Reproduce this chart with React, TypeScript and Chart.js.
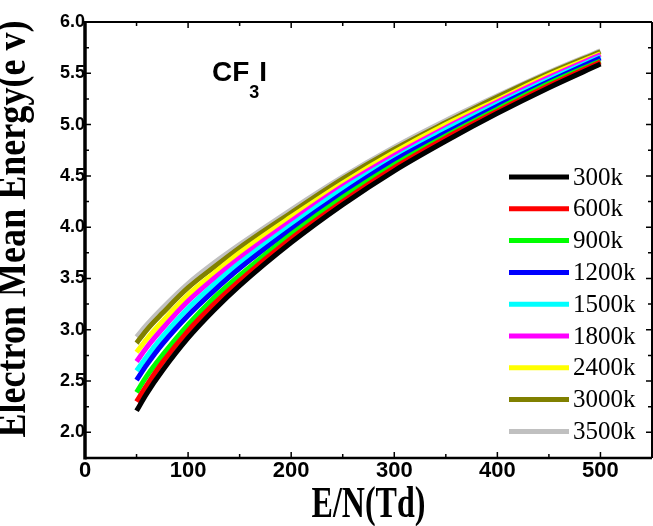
import React, { useEffect, useRef } from "react";
import { Chart, registerables } from "chart.js";

Chart.register(...registerables);

// ---------- data ----------
const EN_TD = [50, 60, 75, 100, 125, 150, 200, 250, 300, 350, 400, 450, 500];
const SERIES_LABELS = ["300k", "600k", "900k", "1200k", "1500k", "1800k", "2400k", "3000k", "3500k"];
const SERIES_COLORS = ["#000000", "#ff0000", "#00ff00", "#0000ff", "#00ffff", "#ff00ff", "#ffff00", "#808000", "#c0c0c0"];
const E300 = [2.21, 2.38, 2.6, 2.92, 3.19, 3.43, 3.85, 4.22, 4.55, 4.84, 5.11, 5.36, 5.59];
const E600 = [2.3, 2.46, 2.68, 2.99, 3.25, 3.48, 3.89, 4.25, 4.58, 4.87, 5.13, 5.38, 5.61];
const E900 = [2.39, 2.55, 2.75, 3.05, 3.31, 3.53, 3.93, 4.29, 4.61, 4.89, 5.15, 5.4, 5.62];
const E1200 = [2.51, 2.66, 2.86, 3.14, 3.38, 3.6, 3.98, 4.33, 4.65, 4.92, 5.18, 5.42, 5.65];
const E1500 = [2.6, 2.74, 2.93, 3.21, 3.44, 3.65, 4.02, 4.37, 4.67, 4.95, 5.2, 5.44, 5.66];
const E1800 = [2.69, 2.83, 3.01, 3.28, 3.5, 3.7, 4.06, 4.4, 4.7, 4.97, 5.22, 5.46, 5.68];
const E2400 = [2.78, 2.91, 3.08, 3.34, 3.55, 3.75, 4.1, 4.43, 4.73, 5.0, 5.24, 5.48, 5.69];
const E3000 = [2.87, 3.0, 3.16, 3.41, 3.61, 3.8, 4.14, 4.47, 4.76, 5.02, 5.27, 5.5, 5.71];
const E3500 = [2.93, 3.05, 3.21, 3.45, 3.65, 3.83, 4.17, 4.49, 4.78, 5.04, 5.28, 5.51, 5.72];
const SERIES = [E300, E600, E900, E1200, E1500, E1800, E2400, E3000, E3500];

const X_TICKS = [0, 100, 200, 300, 400, 500];
const Y_TICKS = [2.0, 2.5, 3.0, 3.5, 4.0, 4.5, 5.0, 5.5, 6.0];
const X_MIN = 0;
const X_MAX = 550;
const Y_MIN = 1.75;
const Y_MAX = 6.0;

const X_TITLE = "E/N(Td)";
const Y_TITLE = "Electron Mean Energy(e v)";

// ---------- plugins ----------
const framePlugin = {
  id: "frame",
  afterDatasetsDraw(chart: any) {
    const { ctx, chartArea: a, scales } = chart;
    const xs = scales.x;
    const ys = scales.y;
    ctx.save();
    ctx.strokeStyle = "#000";
    ctx.lineCap = "butt";
    ctx.lineWidth = 1.5;
    for (let v = 50; v < X_MAX; v += 50) {
      const px = xs.getPixelForValue(v);
      const len = v % 100 === 0 ? 6 : 4;
      ctx.beginPath();
      ctx.moveTo(px, a.bottom);
      ctx.lineTo(px, a.bottom - len);
      ctx.moveTo(px, a.top);
      ctx.lineTo(px, a.top + len);
      ctx.stroke();
    }
    for (let v = 2.0; v < Y_MAX - 0.01; v += 0.25) {
      const py = ys.getPixelForValue(v);
      const len = Math.abs(v * 2 - Math.round(v * 2)) < 0.01 ? 6 : 4;
      ctx.beginPath();
      ctx.moveTo(a.left, py);
      ctx.lineTo(a.left + len, py);
      ctx.moveTo(a.right, py);
      ctx.lineTo(a.right - len, py);
      ctx.stroke();
    }
    ctx.lineWidth = 2;
    ctx.beginPath();
    ctx.moveTo(a.left, a.top);
    ctx.lineTo(a.right, a.top);
    ctx.moveTo(a.right, a.top);
    ctx.lineTo(a.right, a.bottom);
    ctx.stroke();
    ctx.lineWidth = 2.7;
    ctx.beginPath();
    ctx.moveTo(a.left, a.bottom);
    ctx.lineTo(a.right, a.bottom);
    ctx.stroke();
    ctx.lineWidth = 3.5;
    ctx.beginPath();
    ctx.moveTo(a.left, a.top - 1);
    ctx.lineTo(a.left, a.bottom + 1.5);
    ctx.stroke();
    ctx.restore();
  },
};

const annotationPlugin = {
  id: "annot",
  afterDraw(chart: any) {
    const { ctx, chartArea: a } = chart;
    ctx.save();
    ctx.fillStyle = "#000";
    const ds = chart.data.datasets;
    ds.forEach((d: any, i: number) => {
      const y = 177 + i * 31.8;
      ctx.strokeStyle = d.borderColor;
      ctx.lineWidth = 5;
      ctx.beginPath();
      ctx.moveTo(509, y);
      ctx.lineTo(569, y);
      ctx.stroke();
      ctx.font = "25px 'Liberation Serif'";
      ctx.textAlign = "left";
      ctx.textBaseline = "middle";
      ctx.fillText(d.label, 573, y + 1);
    });
    // CF3I
    ctx.textBaseline = "alphabetic";
    ctx.textAlign = "left";
    ctx.font = "bold 28px 'Liberation Sans'";
    ctx.fillText("CF", 212, 81);
    const w = ctx.measureText("CF").width;
    ctx.font = "bold 18px 'Liberation Sans'";
    ctx.fillText("3", 212 + w, 98);
    const w3 = ctx.measureText("3").width;
    ctx.font = "bold 28px 'Liberation Sans'";
    ctx.fillText("I", 212 + w + w3, 81);
    // x title
    ctx.font = "bold 45px 'Liberation Serif'";
    ctx.textAlign = "center";
    const xw = ctx.measureText(X_TITLE).width;
    ctx.save();
    ctx.translate((a.left + a.right) / 2, 517);
    ctx.scale(114 / xw, 1);
    ctx.fillText(X_TITLE, 0, 0);
    ctx.restore();
    // y title
    ctx.font = "bold 42px 'Liberation Serif'";
    const yw = ctx.measureText(Y_TITLE).width;
    ctx.save();
    ctx.translate(25, 229);
    ctx.rotate(-Math.PI / 2);
    ctx.scale(417 / yw, 1);
    ctx.fillText(Y_TITLE, 0, 0);
    ctx.restore();
    ctx.restore();
  },
};

export default function App() {
  const ref = useRef<HTMLCanvasElement | null>(null);
  useEffect(() => {
    document.body.style.margin = "0";
    const canvas = ref.current;
    if (!canvas) return;
    const chart = new Chart(canvas, {
      type: "line",
      data: {
        datasets: SERIES.map((s, i) => ({
          label: SERIES_LABELS[i],
          data: EN_TD.map((x, j) => ({ x, y: s[j] })),
          borderColor: SERIES_COLORS[i],
          backgroundColor: SERIES_COLORS[i],
          borderWidth: 5,
          pointRadius: 0,
          fill: false,
          cubicInterpolationMode: "monotone" as const,
        })),
      },
      options: {
        responsive: false,
        animation: false,
        devicePixelRatio: 1,
        layout: { padding: { top: 22, right: 1, left: 0, bottom: 0 } },
        plugins: { legend: { display: false }, tooltip: { enabled: false }, title: { display: false } },
        scales: {
          x: {
            type: "linear",
            min: X_MIN,
            max: X_MAX,
            afterBuildTicks: (s: any) => {
              s.ticks = X_TICKS.map((v) => ({ value: v }));
            },
            afterFit: (s: any) => {
              s.height = 68;
            },
            grid: { display: false, drawTicks: false },
            border: { display: false },
            ticks: {
              autoSkip: false,
              maxRotation: 0,
              padding: 0,
              color: "#000",
              font: { family: "'Liberation Sans'", size: 22, weight: "bold" },
              callback: (v: any) => String(v),
            },
          },
          y: {
            type: "linear",
            min: Y_MIN,
            max: Y_MAX,
            afterBuildTicks: (s: any) => {
              s.ticks = Y_TICKS.map((v) => ({ value: v }));
            },
            afterFit: (s: any) => {
              s.width = 85;
            },
            grid: { display: false, drawTicks: false },
            border: { display: false },
            ticks: {
              autoSkip: false,
              padding: 0,
              color: "#000",
              font: { family: "'Liberation Sans'", size: 18, weight: "bold" },
              callback: (v: any) => Number(v).toFixed(1),
            },
          },
        },
      },
      plugins: [framePlugin, annotationPlugin],
    });
    return () => chart.destroy();
  }, []);
  return <canvas ref={ref} width={653} height={526} style={{ display: "block" }} />;
}
